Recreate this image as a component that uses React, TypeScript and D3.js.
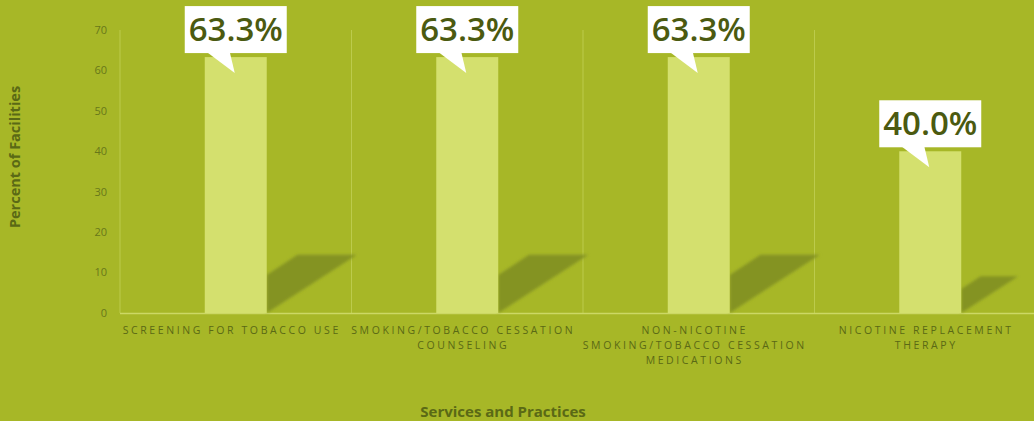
import React from 'react';
import * as d3 from 'd3';

const categories = [
  ['SCREENING FOR TOBACCO USE'],
  ['SMOKING/TOBACCO CESSATION', 'COUNSELING'],
  ['NON-NICOTINE', 'SMOKING/TOBACCO CESSATION', 'MEDICATIONS'],
  ['NICOTINE REPLACEMENT', 'THERAPY'],
];
const values = [63.3, 63.3, 63.3, 40.0];
const yTicks = [0, 10, 20, 30, 40, 50, 60, 70];

const W = 1034;
const H = 421;
const left = 120;
const right = 1046;
const top = 30;
const bottom = 313;

const bg = '#a7b727';
const barColor = '#d4e06e';
const gridColor = '#bccb4c';
const tickColor = '#67771a';
const titleColor = '#5a6915';
const calloutText = '#4b5a10';
const font = "Candara, 'Open Sans', 'Noto Sans', sans-serif";

export default function App() {
  const x = d3.scaleBand<number>().domain(d3.range(values.length)).range([left, right]);
  const y = d3.scaleLinear().domain([0, 70]).range([bottom, top]);
  const barW = 62;

  return (
    <svg width={W} height={H} style={{ position: 'absolute', top: 0, left: 0, background: bg }}>
      <defs>
        <filter id="blur" x="-20%" y="-20%" width="140%" height="140%">
          <feGaussianBlur stdDeviation="1.5" />
        </filter>
      </defs>
      <rect width={W} height={H} fill={bg} />

      {/* vertical grid lines at band edges */}
      {d3.range(values.length).map((i) => (
        <line key={'g' + i} x1={x(i)!} x2={x(i)!} y1={top} y2={bottom} stroke={gridColor} strokeWidth={1} />
      ))}
      <line x1={left} x2={W} y1={bottom + 0.5} y2={bottom + 0.5} stroke="#ccd865" strokeWidth={1.5} />

      {/* y ticks */}
      {yTicks.map((t) => (
        <text key={'t' + t} x={107} y={y(t)} dy="0.35em" textAnchor="end" fontSize={11} fill={tickColor} fontFamily={font}>
          {t}
        </text>
      ))}

      {/* shadows */}
      {values.map((v, i) => {
        const cx = x(i)! + x.bandwidth() / 2;
        const bx = cx + barW / 2;
        const h = bottom - y(v);
        const pts = [
          [bx, bottom],
          [bx, bottom - 0.148 * h],
          [bx + 0.12 * h, bottom - 0.228 * h],
          [bx + 0.352 * h, bottom - 0.228 * h],
        ];
        return <polygon key={'s' + i} points={pts.map((p) => p.join(',')).join(' ')} fill="#849322" filter="url(#blur)" />;
      })}

      {/* bars */}
      {values.map((v, i) => {
        const cx = x(i)! + x.bandwidth() / 2;
        return <rect key={'b' + i} x={cx - barW / 2} y={y(v)} width={barW} height={bottom - y(v)} fill={barColor} />;
      })}

      {/* callouts */}
      {values.map((v, i) => {
        const cx = x(i)! + x.bandwidth() / 2;
        const yt = y(v);
        const bw = 102;
        const bh = 47;
        const by = yt - 4 - bh;
        return (
          <g key={'c' + i}>
            <rect x={cx - bw / 2} y={by} width={bw} height={bh} fill="#ffffff" />
            <polygon
              points={`${cx - 29},${by + bh - 1} ${cx - 6},${by + bh - 1} ${cx - 1},${yt + 16}`}
              fill="#ffffff"
            />
            <text x={cx} y={by + 35} textAnchor="middle" fontSize={33} fontWeight={600} fill={calloutText} fontFamily={font}>
              {v.toFixed(1)}%
            </text>
          </g>
        );
      })}

      {/* x labels */}
      {categories.map((lines, i) => {
        const cx = x(i)! + x.bandwidth() / 2 - 4;
        return (
          <text key={'x' + i} textAnchor="middle" fontSize={10.5} letterSpacing={2.6} fill={titleColor} fontFamily={font}>
            {lines.map((l, j) => (
              <tspan key={j} x={cx} y={334 + j * 15}>
                {l}
              </tspan>
            ))}
          </text>
        );
      })}

      <text
        transform={`translate(20, 157) rotate(-90)`}
        textAnchor="middle"
        fontSize={14.5}
        fontWeight={700}
        fill={titleColor}
        fontFamily={font}
      >
        Percent of Facilities
      </text>
      <text x={503} y={417} textAnchor="middle" fontSize={15} fontWeight={700} fill={titleColor} fontFamily={font}>
        Services and Practices
      </text>
    </svg>
  );
}
